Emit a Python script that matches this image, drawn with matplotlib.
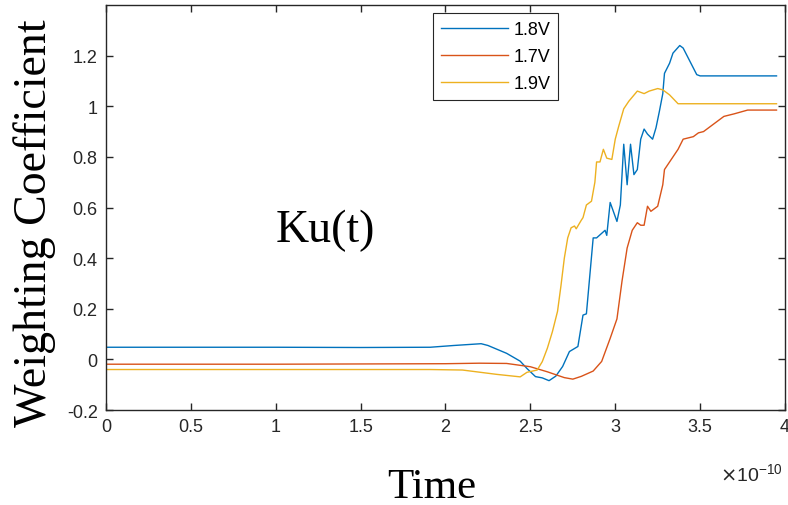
import matplotlib.pyplot as plt

plt.rcParams['axes.unicode_minus'] = False

# Zeit in Einheiten von 1e-10 s
t_18 = [0, 0.5, 1.0, 1.5, 1.91, 2.05, 2.21, 2.25, 2.36, 2.44, 2.48, 2.53, 2.57, 2.61,
        2.65, 2.69, 2.73, 2.78, 2.81, 2.83, 2.87, 2.89, 2.94, 2.95, 2.97,
        3.01, 3.03, 3.05, 3.07, 3.09, 3.11, 3.13, 3.15, 3.17, 3.19, 3.22, 3.24, 3.26,
        3.28, 3.29, 3.32, 3.34, 3.38, 3.40, 3.48, 3.50, 3.95]
v_18 = [0.048, 0.048, 0.048, 0.047, 0.048, 0.055, 0.062, 0.055, 0.024, -0.007, -0.036,
        -0.068, -0.073, -0.084, -0.066, -0.028, 0.031, 0.051, 0.175, 0.18, 0.48, 0.48,
        0.51, 0.49, 0.62, 0.545, 0.61, 0.85, 0.69, 0.85, 0.73, 0.75, 0.87, 0.91, 0.89,
        0.87, 0.915, 0.98, 1.05, 1.13, 1.17, 1.21, 1.24, 1.23, 1.125, 1.12, 1.12]

t_17 = [0, 0.5, 1.0, 1.5, 2.0, 2.2, 2.36, 2.50, 2.60, 2.70, 2.75, 2.80, 2.87, 2.92, 2.97,
        3.01, 3.04, 3.07, 3.10, 3.13, 3.15, 3.17, 3.19, 3.21, 3.25, 3.28, 3.29, 3.32,
        3.34, 3.37, 3.40, 3.46, 3.49, 3.52, 3.58, 3.64, 3.70, 3.78, 3.95]
v_17 = [-0.019, -0.019, -0.019, -0.018, -0.017, -0.015, -0.016, -0.029, -0.049, -0.072,
        -0.078, -0.067, -0.046, -0.008, 0.083, 0.16, 0.31, 0.44, 0.51, 0.54, 0.53, 0.53,
        0.605, 0.585, 0.605, 0.69, 0.75, 0.78, 0.80, 0.83, 0.87, 0.88, 0.895, 0.90, 0.93,
        0.96, 0.97, 0.985, 0.985]

t_19 = [0, 0.5, 1.0, 1.5, 1.91, 2.10, 2.30, 2.44, 2.48, 2.54, 2.57, 2.60, 2.63, 2.66,
        2.68, 2.70, 2.72, 2.74, 2.76, 2.77, 2.80, 2.81, 2.83, 2.86, 2.88, 2.89, 2.91,
        2.93, 2.95, 2.98, 3.00, 3.02, 3.05, 3.08, 3.13, 3.17, 3.20, 3.25, 3.28, 3.32,
        3.37, 3.95]
v_19 = [-0.04, -0.04, -0.04, -0.04, -0.04, -0.042, -0.059, -0.069, -0.051, -0.042,
        -0.009, 0.044, 0.11, 0.19, 0.29, 0.40, 0.48, 0.52, 0.527, 0.516, 0.55, 0.56,
        0.61, 0.625, 0.70, 0.78, 0.78, 0.83, 0.795, 0.79, 0.87, 0.92, 0.99, 1.02, 1.06,
        1.05, 1.06, 1.07, 1.065, 1.045, 1.01, 1.01]

x_ticks = [0, 0.5, 1, 1.5, 2, 2.5, 3, 3.5, 4]
x_labels = ['0', '0.5', '1', '1.5', '2', '2.5', '3', '3.5', '4']
y_ticks = [-0.2, 0, 0.2, 0.4, 0.6, 0.8, 1.0, 1.2]
y_labels = ['-0.2', '0', '0.2', '0.4', '0.6', '0.8', '1', '1.2']

fig = plt.figure(figsize=(7.88, 5.06), dpi=100)
ax = fig.add_axes([0.1345, 0.1877, 0.8617, 0.8004])

ax.plot(t_18, v_18, color='#0072BD', lw=1.0, label='1.8V')
ax.plot(t_17, v_17, color='#D95319', lw=1.0, label='1.7V')
ax.plot(t_19, v_19, color='#EDB120', lw=1.0, label='1.9V')

ax.set_xlim(0, 4)
ax.set_ylim(-0.2, 1.4)
ax.set_xticks(x_ticks)
ax.set_xticklabels(x_labels)
ax.set_yticks(y_ticks)
ax.set_yticklabels(y_labels)
ax.tick_params(direction='in', length=5, width=1, top=True, right=True,
               labelsize=13, colors='#262626', pad=6)
for lbl in ax.get_xticklabels() + ax.get_yticklabels():
    lbl.set_fontfamily('Liberation Sans')
for s in ax.spines.values():
    s.set_color('#262626')
    s.set_linewidth(1.0)

leg = ax.legend(loc='upper left', bbox_to_anchor=(0.4816, 0.980), borderaxespad=0,
                fancybox=False, framealpha=1, edgecolor='#262626', handlelength=3.7,
                handletextpad=0.3, labelspacing=0.55, borderpad=0.45,
                prop={'family': 'Liberation Sans', 'size': 13})
leg.get_frame().set_linewidth(0.8)

ax.text(1.29, 0.51, 'Ku(t)', family='Liberation Serif', fontsize=33,
        ha='center', va='center')

fig.text(432 / 788, 1 - 488 / 506, 'Time', family='Liberation Serif', fontsize=31,
         ha='center', va='center')
fig.text(35 / 788, 1 - 223 / 506, 'Weighting Coefficient', family='Liberation Serif',
         fontsize=33, rotation=90, ha='center', va='center')
fig.text(751 / 788, 1 - 474 / 506, r'$\times\mathregular{10^{-10}}$',
         family='Liberation Sans', fontsize=14, color='#262626', ha='center', va='center')

fig.savefig('out.png', dpi=100)
